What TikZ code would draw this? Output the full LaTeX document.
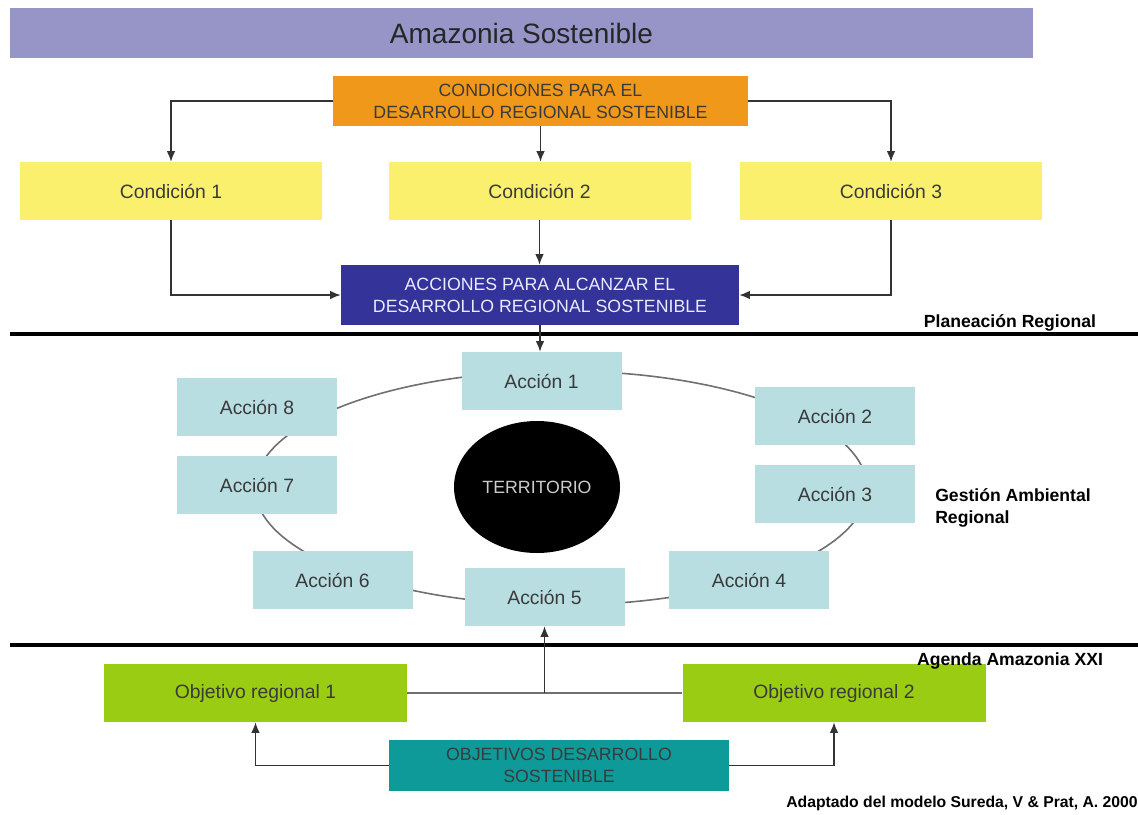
\documentclass[tikz,border=0pt]{standalone}
\usepackage{fontspec}
\setmainfont{Liberation Sans}
\usetikzlibrary{shapes.geometric}
\usetikzlibrary{arrows.meta}
\definecolor{am-lav}{HTML}{9794C7}
\definecolor{am-orange}{HTML}{F0981A}
\definecolor{am-yellow}{HTML}{FAF06E}
\definecolor{am-blue}{HTML}{333399}
\definecolor{am-sky}{HTML}{B8DEE2}
\definecolor{am-green}{HTML}{9ACC13}
\definecolor{am-teal}{HTML}{0F9A9A}
\definecolor{am-text}{HTML}{3A3A3A}
\definecolor{am-line}{HTML}{333333}
\tikzset{
  box/.style n args={3}{
    rectangle,
    fill=#1,
    minimum width=#2,
    minimum height=#3,
    inner sep=2pt,
    align=center,
    text=am-text,
    font=\fontsize{14.5}{17}\selectfont},
  caps/.style={font=\fontsize{13.3}{16.5}\selectfont},
  link/.style={draw=am-line, line width=1.1pt, -{Latex[length=8pt, width=6.5pt]}},
  band/.style={line width=3.2pt, black},
  tag/.style={font=\bfseries\fontsize{13.2}{16}\selectfont, inner sep=0pt, text=black},
}

\begin{document}
\begin{tikzpicture}[x=0.75pt, y=-0.75pt]
  \useasboundingbox (0,0) rectangle (1138,814);

  \node[box={am-lav}{767.25pt}{37.5pt}, font=\fontsize{21}{24}\selectfont, text=black!85] (title) at (521.5,33) {Amazonia Sostenible};

  % condiciones
  \node[box={am-orange}{311.25pt}{37.5pt}, caps] (cond) at (540.5,101) {CONDICIONES PARA EL\\DESARROLLO REGIONAL SOSTENIBLE};
  \foreach \x [count=\i] in {171, 539.5, 891}
    \node[box={am-yellow}{226.5pt}{43.5pt}] (cond\i) at (\x,191) {Condición \i};
  \node[box={am-blue}{298.5pt}{45pt}, caps, text=blue!8] (acc) at (540,295) {ACCIONES PARA ALCANZAR EL\\DESARROLLO REGIONAL SOSTENIBLE};

  \draw[link] (cond.west) -| (cond1.north);
  \draw[link] (cond.east) -| (cond3.north);
  \draw[link] (cond.south) -- (cond.south |- cond2.north);
  \draw[link] (cond1.south) |- (acc.west);
  \draw[link] (cond3.south) |- (acc.east);
  \draw[link] (cond2.south) -- (cond2.south |- acc.north);

  % bands
  \draw[band] (10,334) -- (1138,334);
  \draw[band] (10,645) -- (1138,645);
  \node[tag] (plan) at (1010,323) {Planeación Regional};
  \node[tag, anchor=west, align=left] (gest) at (935,508) {Gestión Ambiental\\Regional};

  % territorio y acciones
  \coordinate (ring) at (561,488);
  \draw[am-line!70, line width=1.2pt] (ring) ellipse [x radius=229.5pt, y radius=87.75pt];
  \node[ellipse, fill=black, minimum width=124.5pt, minimum height=99pt, inner sep=0pt,
        text=black!20, font=\fontsize{13.3}{16}\selectfont] (terr) at (537,487) {TERRITORIO};
  \foreach \x/\y [count=\i] in {541.5/381, 835/416, 835/494, 749/580, 544.5/597, 332.5/580, 257/485, 257/407}
    \node[box={am-sky}{120pt}{43.5pt}] (acc\i) at (\x,\y) {Acción \i};
  \draw[link] (acc.south) -- (acc.south |- acc1.north);

  % objetivos
  \node[box={am-green}{227.25pt}{43.5pt}] (obj1) at (255.5,693) {Objetivo regional 1};
  \node[box={am-green}{227.25pt}{43.5pt}] (obj2) at (834,693) {Objetivo regional 2};
  \node[box={am-teal}{255pt}{38.25pt}, caps] (ods) at (559,765.5) {OBJETIVOS DESARROLLO\\SOSTENIBLE};
  \coordinate (join) at (acc5.south |- obj1.east);
  \draw[am-line!70, line width=1.2pt] (obj1.east) -- (obj2.west);
  \draw[link] (join) -- (acc5.south);
  \draw[link] (ods.west) -| (obj1.south);
  \draw[link] (ods.east) -| (obj2.south);
  \node[tag] (agenda) at (1010,661) {Agenda Amazonia XXI};

  \node[tag, anchor=east, font=\bfseries\fontsize{11.8}{14}\selectfont] (src) at (1138,803) {Adaptado del modelo Sureda, V \& Prat, A. 2000};
\end{tikzpicture}
\end{document}
